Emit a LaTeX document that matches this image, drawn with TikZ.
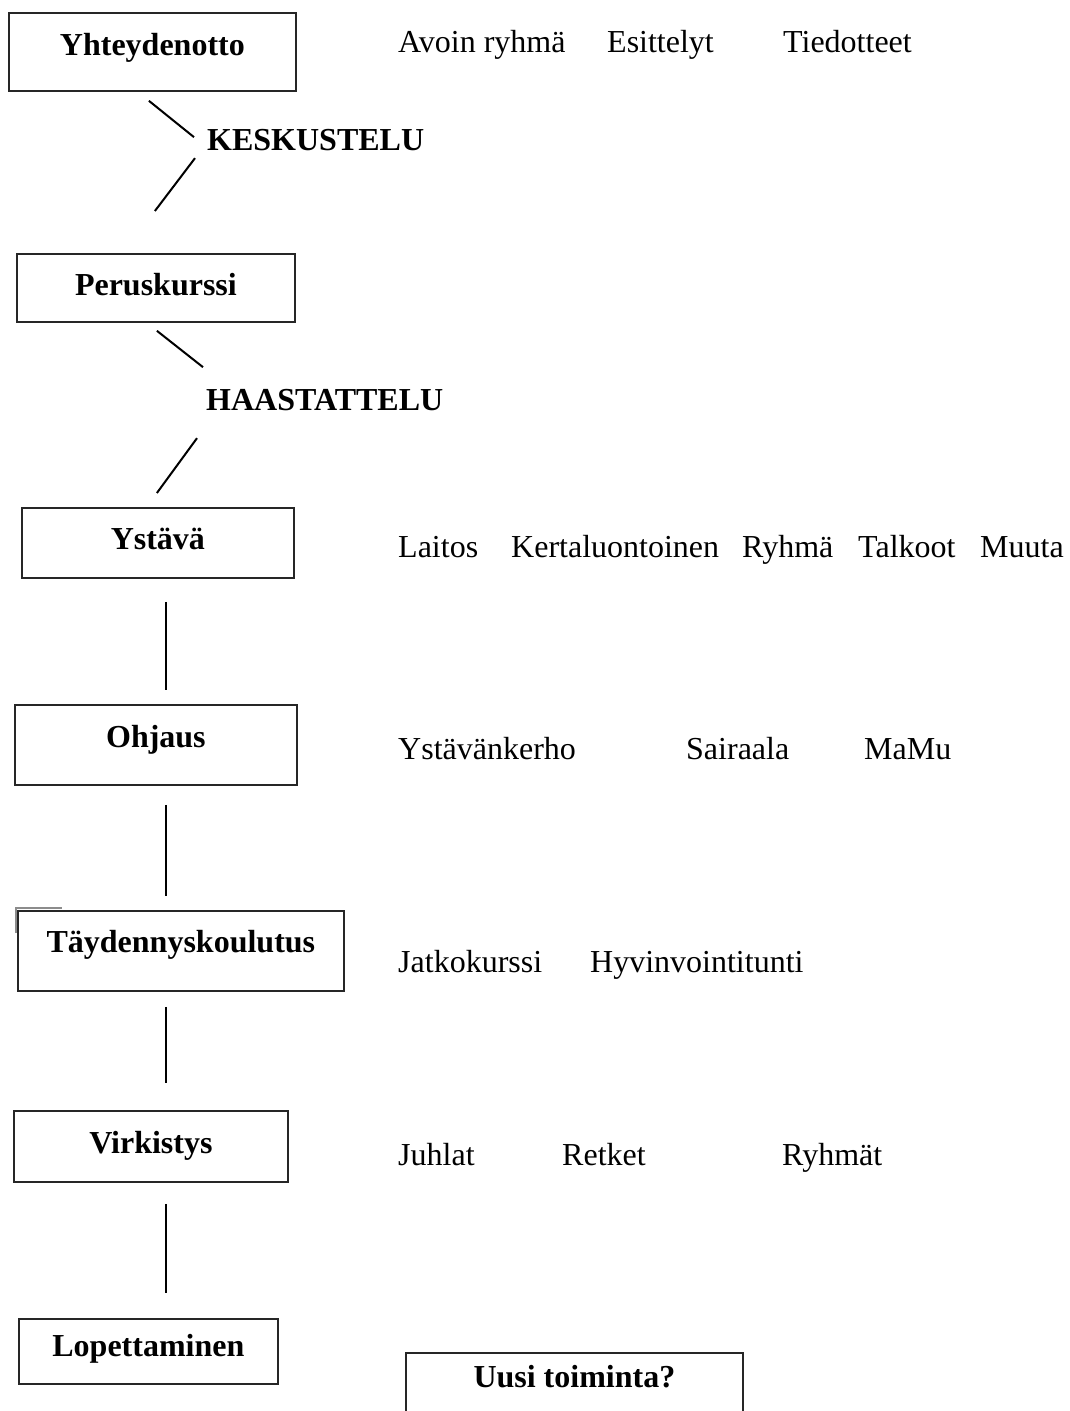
\documentclass[tikz,border=0pt]{standalone}
\usepackage{fontspec}
\setmainfont{Liberation Serif}
\tikzset{font=\fontsize{32}{38}\selectfont}

\begin{document}
\begin{tikzpicture}
  [x=1pt, y=-1pt, every node/.style={inner sep=0pt},
  box/.style={rectangle, draw=black!85, line width=1.8pt, anchor=north west, align=center, font=\fontsize{32}{38}\selectfont\bfseries},
  phase/.style={anchor=base west, font=\fontsize{32}{38}\selectfont\bfseries},
  item/.style={anchor=base west},
  link/.style={draw, line width=2pt},
  smudge/.style={draw=black!45, line width=1.5pt}]
  \useasboundingbox (0,0) rectangle (1070,1411);
  \clip (0,0) rectangle (1070,1411);

  % main steps
  \node [box, minimum width=287pt, text height=43pt, text depth=35pt] (contact) at (8,12) {Yhteydenotto};
  \node [box, minimum width=278pt, text height=42pt, text depth=26pt] (course) at (16,253) {Peruskurssi};
  \node [box, minimum width=272pt, text height=42pt, text depth=28pt] (friend) at (21,507) {Ystävä};
  \node [box, minimum width=282pt, text height=43pt, text depth=37pt] (guidance) at (14,704) {Ohjaus};
  \node [box, minimum width=326pt, text height=42pt, text depth=38pt] (training) at (17,910) {Täydennyskoulutus};
  \node [box, minimum width=274pt, text height=43pt, text depth=28pt] (refresh) at (13,1110) {Virkistys};
  \node [box, minimum width=259pt, text height=38pt, text depth=27pt] (ending) at (18,1318) {Lopettaminen};
  \node [box, minimum width=337pt, text height=35pt, text depth=60pt] (newact) at (405,1352) {Uusi toiminta?};

  % in-between steps
  \node [phase] (talk) at (207,150) {KESKUSTELU};
  \node [phase] (interview) at (206,410) {HAASTATTELU};

  % activities
  \node [item] (open) at (398,52) {Avoin ryhmä};
  \node [item] (intro) at (607,52) {Esittelyt};
  \node [item] (news) at (783,52) {Tiedotteet};

  \node [item] (ward) at (398,557) {Laitos};
  \node [item] (once) at (511,557) {Kertaluontoinen};
  \node [item] (group) at (742,557) {Ryhmä};
  \node [item] (bee) at (858,557) {Talkoot};
  \node [item] (other) at (980,557) {Muuta};

  \node [item] (club) at (398,759) {Ystävänkerho};
  \node [item] (hospital) at (686,759) {Sairaala};
  \node [item] (mamu) at (864,759) {MaMu};

  \node [item] (further) at (398,972) {Jatkokurssi};
  \node [item] (wellbeing) at (590,972) {Hyvinvointitunti};

  \node [item] (party) at (398,1165) {Juhlat};
  \node [item] (trip) at (562,1165) {Retket};
  \node [item] (groups) at (782,1165) {Ryhmät};

  % connectors
  \path [link] ([xshift=-3.5pt,yshift=-9pt]contact.south) -- ([xshift=-13pt,yshift=2.4pt]talk.west);
  \path [link] ([xshift=-12pt,yshift=-18.6pt]talk.west) -- ([xshift=-1pt,yshift=42pt]course.north);
  \path [link] ([xshift=1pt,yshift=-8pt]course.south) -- ([xshift=-3pt,yshift=32.4pt]interview.west);
  \path [link] ([xshift=-9pt,yshift=-38.6pt]interview.west) -- ([xshift=-1pt,yshift=14pt]friend.north);
  \path [link] ([xshift=8pt,yshift=-23pt]friend.south) -- ([xshift=10pt,yshift=14pt]guidance.north);
  \path [link] ([xshift=10pt,yshift=-19pt]guidance.south) -- ([xshift=-15pt,yshift=14pt]training.north);
  \path [link] ([xshift=-15pt,yshift=-15pt]training.south) -- ([xshift=15pt,yshift=27pt]refresh.north);
  \path [link] ([xshift=15pt,yshift=-21pt]refresh.south) -- ([xshift=17.5pt,yshift=25pt]ending.north);

  % stray mark at the corner
  \path [smudge] ([xshift=-1pt,yshift=-23pt]training.north west) |- ([xshift=45pt,yshift=2pt]training.north west);
\end{tikzpicture}
\end{document}
